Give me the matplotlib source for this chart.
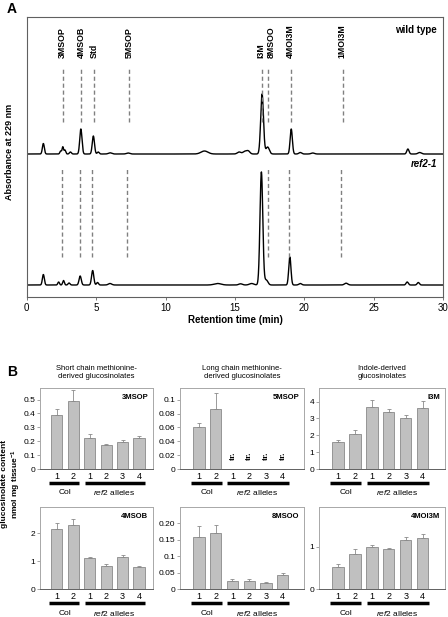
import matplotlib
matplotlib.use("Agg")
import matplotlib.pyplot as plt
import matplotlib.transforms as mtransforms
import numpy as np

plt.rcParams['font.family'] = ['Liberation Sans', 'DejaVu Sans']
plt.rcParams['mathtext.fontset'] = 'custom'
plt.rcParams['mathtext.rm'] = 'Liberation Sans'
plt.rcParams['mathtext.it'] = 'Liberation Sans:italic'
plt.rcParams['mathtext.bf'] = 'Liberation Sans:bold'

# ---- Panel A: chromatogram peaks (retention time, height, width) ----
wt_rt = [1.2, 2.45, 2.6, 2.75, 3.15, 3.9, 4.8, 5.15, 6.0, 7.3, 12.8, 15.3, 15.7, 15.95,
         16.95, 17.35, 19.05, 19.7, 20.6, 27.45, 28.3]
wt_h = [10.5, 3, 7, 4, 2, 25, 18, 2, 1.2, 1, 3, 2, 2.5, 3, 60, 7, 25, 1.5, 1, 5, 1.5]
wt_w = [0.07, 0.06, 0.05, 0.06, 0.07, 0.08, 0.08, 0.07, 0.12, 0.12, 0.25, 0.13, 0.13, 0.12,
        0.1, 0.12, 0.08, 0.1, 0.12, 0.08, 0.12]

ref_rt = [1.2, 2.3, 2.65, 3.05, 3.85, 4.75, 5.1, 6.0, 13.75, 15.4, 16.2, 16.9, 17.25,
          18.95, 19.7, 23.0, 27.4, 28.2]
ref_h = [10.5, 3, 4.5, 2, 9, 14.5, 2.5, 1.5, 1.5, 1.2, 1.5, 113, 5, 28, 1.5, 1.8, 3, 2.5]
ref_w = [0.07, 0.06, 0.06, 0.07, 0.08, 0.08, 0.07, 0.12, 0.25, 0.13, 0.16, 0.1, 0.12,
         0.08, 0.1, 0.12, 0.08, 0.08]

peak_names = ['3MSOP', '4MSOB', 'Std', '5MSOP', 'I3M', '8MSOO', '4MOI3M', '1MOI3M']
label_rt = [2.6, 3.93, 4.85, 7.39, 16.88, 17.62, 19.0, 22.68]
wt_marks = [2.64, 3.9, 4.83, 7.39, 16.96, 17.4, 19.0, 22.75]
ref_marks = [2.52, 3.86, 4.73, 7.25, 17.4, 18.88, 22.65]

# ---- Panel B: glucosinolate content ----
bar_labels = ['1', '2', '1', '2', '3', '4']
names = ['3MSOP', '5MSOP', 'I3M', '4MSOB', '8MSOO', '4MOI3M']
vals_3msop = [0.39, 0.49, 0.22, 0.17, 0.195, 0.225]
err_3msop = [0.04, 0.08, 0.03, 0.01, 0.015, 0.015]
vals_5msop = [0.061, 0.086, 0, 0, 0, 0]
err_5msop = [0.005, 0.024, 0, 0, 0, 0]
vals_i3m = [1.6, 2.1, 3.7, 3.4, 3.0, 3.62]
err_i3m = [0.12, 0.2, 0.4, 0.15, 0.2, 0.4]
vals_4msob = [2.15, 2.27, 1.1, 0.83, 1.13, 0.77]
err_4msob = [0.2, 0.22, 0.06, 0.06, 0.1, 0.05]
vals_8msoo = [0.16, 0.172, 0.025, 0.025, 0.018, 0.042]
err_8msoo = [0.033, 0.023, 0.005, 0.005, 0.003, 0.007]
vals_4moi3m = [0.53, 0.82, 1.0, 0.94, 1.15, 1.2]
err_4moi3m = [0.05, 0.13, 0.04, 0.04, 0.08, 0.1]

col_titles = ['Short chain methionine-\nderived glucosinolates',
              'Long chain methionine-\nderived glucosinolates',
              'Indole-derived\nglucosinolates']

W, H = 448, 617
fig = plt.figure(figsize=(W / 100, H / 100), dpi=100)


def px_axes(l, t, r, b):
    return fig.add_axes([l / W, 1 - b / H, (r - l) / W, (b - t) / H])


# ================= Panel A =================
axA = px_axes(26.7, 17, 443.3, 297)
t = np.linspace(0, 30, 4000)
wt_base, ref_base = 143, 12
wt_y = wt_base + sum(h * np.exp(-0.5 * ((t - c) / w) ** 2) for c, h, w in zip(wt_rt, wt_h, wt_w))
ref_y = ref_base + sum(h * np.exp(-0.5 * ((t - c) / w) ** 2) for c, h, w in zip(ref_rt, ref_h, ref_w))
axA.plot(t, wt_y, color='black', lw=1.0)
axA.plot(t, ref_y, color='black', lw=1.0)

for x in wt_marks:
    axA.plot([x, x], [175, 230], color='#808080', lw=1.0, ls=(0, (3, 2)))
for x in ref_marks:
    axA.plot([x, x], [40, 130], color='#808080', lw=1.0, ls=(0, (3, 2)))
for name, x in zip(peak_names, label_rt):
    axA.text(x, 239, name, rotation=90, ha='center', va='bottom', fontsize=6.3,
             fontweight='bold')

axA.text(0.985, 0.955, 'wild type', transform=axA.transAxes, ha='right', va='center',
         fontsize=7, fontweight='bold')
axA.text(0.985, 0.475, 'ref2-1', transform=axA.transAxes, ha='right', va='center',
         fontsize=7, fontweight='bold', style='italic')

axA.set_xlim(0, 30)
axA.set_ylim(0, 280)
axA.set_yticks([])
axA.set_xticks([0, 5, 10, 15, 20, 25, 30])
axA.tick_params(axis='x', length=2, width=0.6, labelsize=7, pad=2, color='#606060')
for s in axA.spines.values():
    s.set_color('#606060')
    s.set_linewidth(0.8)
axA.set_xlabel('Retention time (min)', fontsize=7, fontweight='bold', labelpad=2)
fig.text(10 / W, 1 - 152 / H, 'Absorbance at 229 nm', rotation=90, ha='center',
         va='center', fontsize=6.5, fontweight='bold')
fig.text(12 / W, 1 - 9 / H, 'A', ha='center', va='center', fontsize=10, fontweight='bold')
fig.text(12 / W, 1 - 372 / H, 'B', ha='center', va='center', fontsize=10, fontweight='bold')

# ================= Panel B =================
cols = [(40, 153, (-1.01, 5.85)), (180, 304, (-1.13, 6.27)), (319, 445, (-1.12, 6.32))]
rows = [(388, 469), (507, 589)]
all_vals = [vals_3msop, vals_5msop, vals_i3m, vals_4msob, vals_8msoo, vals_4moi3m]
all_err = [err_3msop, err_5msop, err_i3m, err_4msob, err_8msoo, err_4moi3m]
ylims = [0.583, 0.117, 4.8, 2.93, 0.25, 1.94]
yticks = [[0, 0.1, 0.2, 0.3, 0.4, 0.5], [0, 0.02, 0.04, 0.06, 0.08, 0.1], [0, 1, 2, 3, 4],
          [0, 1, 2], [0, 0.05, 0.1, 0.15, 0.2], [0, 1]]
ytick_labels = [['0', '0.1', '0.2', '0.3', '0.4', '0.5'],
                ['0', '0.02', '0.04', '0.06', '0.08', '0.1'],
                ['0', '1', '2', '3', '4'], ['0', '1', '2'],
                ['0', '0.05', '0.1', '0.15', '0.20'], ['0', '1']]

pos = np.arange(6)
for i in range(6):
    r, c = divmod(i, 3)
    l, rt, xl = cols[c]
    top, bot = rows[r]
    ax = px_axes(l, top, rt, bot)
    ax.bar(pos, all_vals[i], width=0.67, color='#c0c0c0', edgecolor='#8a8a8a', lw=0.6)
    ax.errorbar(pos, all_vals[i], yerr=[np.zeros(6), all_err[i]], fmt='none',
                ecolor='#8a8a8a', elinewidth=0.6, capsize=1.2, capthick=0.6)
    ax.set_xlim(*xl)
    ax.set_ylim(0, ylims[i])
    ax.set_yticks(yticks[i])
    ax.set_yticklabels(ytick_labels[i])
    ax.set_xticks(pos)
    ax.set_xticklabels(bar_labels)
    ax.tick_params(axis='y', length=2, width=0.5, color='#808080', labelsize=6, pad=1.5)
    ax.tick_params(axis='x', length=0, labelsize=6.5, pad=2)
    for side, s in ax.spines.items():
        s.set_linewidth(0.7)
        s.set_color('#606060' if side == 'bottom' else '#a8a8a8')
    ax.text(0.96, 0.88, names[i], transform=ax.transAxes, ha='right', va='center',
            fontsize=5.5, fontweight='bold')
    if names[i] == '5MSOP':
        for p in pos[2:]:
            ax.text(p, 0.019, 'tr.', rotation=90, ha='center', va='center', fontsize=6.5,
                    fontweight='bold', family='Liberation Serif')
    tr = mtransforms.blended_transform_factory(ax.transData, ax.transAxes)
    ax.plot([-0.45, 1.35], [-0.175, -0.175], transform=tr, color='black', lw=2.5,
            clip_on=False, solid_capstyle='butt')
    ax.plot([1.7, 5.35], [-0.175, -0.175], transform=tr, color='black', lw=2.5,
            clip_on=False, solid_capstyle='butt')
    ax.text(0.5, -0.295, 'Col', transform=tr, ha='center', va='center', fontsize=6)
    ax.text(3.5, -0.295, r'$\it{ref2}$ alleles', transform=tr, ha='center', va='center',
            fontsize=6)
    if r == 0:
        fig.text((l + rt) / 2 / W, 1 - 372.5 / H, col_titles[c], ha='center', va='center',
                 fontsize=5.5, linespacing=1.3)

fig.text(12 / W, 1 - 484 / H, 'glucosinolate content\nnmol mg tissue$^{\\mathbf{-1}}$',
         rotation=90, ha='center', va='center', fontsize=6, fontweight='bold',
         linespacing=1.3)

fig.savefig('out.png', dpi=100)
